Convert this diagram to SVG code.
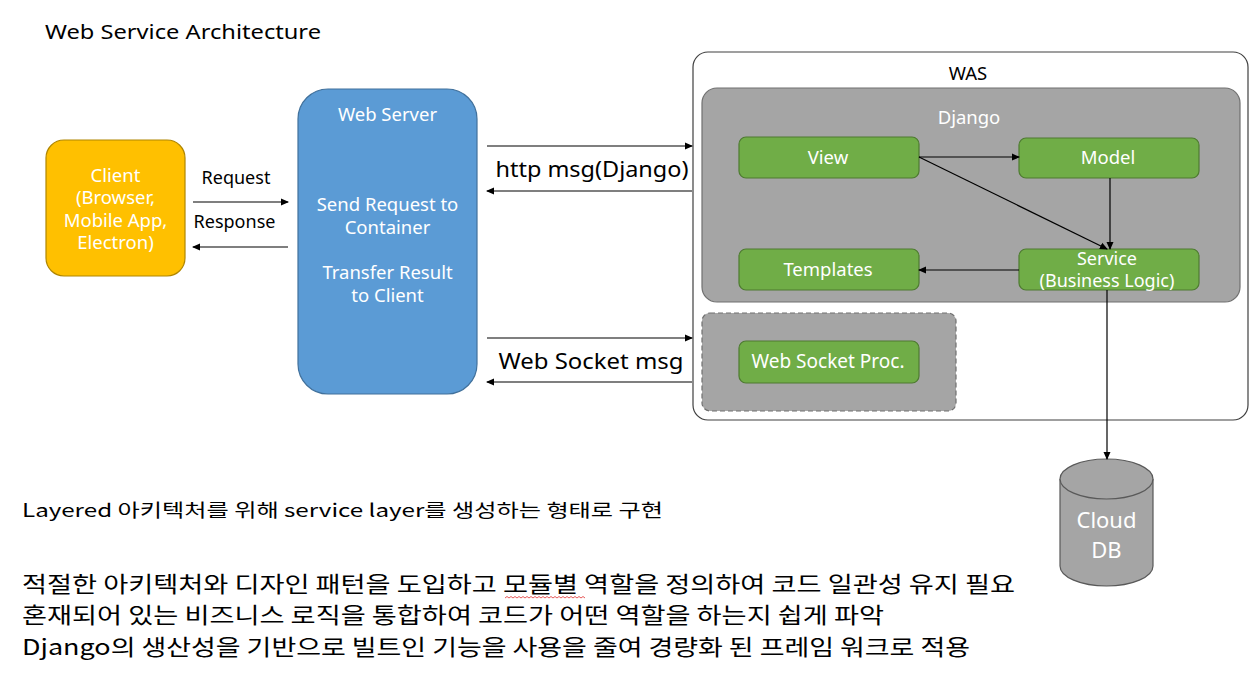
<svg xmlns="http://www.w3.org/2000/svg" width="1260" height="675" viewBox="0 0 1260 675">
<defs>
<marker id="ah" markerWidth="8" markerHeight="8" refX="7" refY="4" orient="auto" markerUnits="userSpaceOnUse">
<path d="M0,0.5 L8,4 L0,7.5 Z" fill="#000"/>
</marker>
<style>
text{font-family:"Noto Sans","Noto Sans CJK KR",sans-serif;}
.w{fill:#fff;text-anchor:middle;}
.k{fill:#000;}
.c{text-anchor:middle;}
.ln{stroke:#000;stroke-width:1.2;fill:none;}
.g{fill:#70AD47;stroke:#4E7B31;stroke-width:1.2;}
.gray{fill:#A5A5A5;stroke:#707070;stroke-width:1.2;}
.kr{font-family:"Noto Sans CJK KR","Noto Sans",sans-serif;}
.n{font-size:18.5px;}
</style>
</defs>
<rect width="1260" height="675" fill="#fff"/>

<text x="45" y="39" font-size="20" class="k" textLength="276" lengthAdjust="spacingAndGlyphs">Web Service Architecture</text>

<g id="client">
<rect x="46" y="140" width="139" height="136" rx="18" fill="#FFC000" stroke="#B08600" stroke-width="1.2"/>
<text class="w n"><tspan x="115.5" y="182">Client</tspan><tspan x="115.5" y="204">(Browser,</tspan><tspan x="115.5" y="227">Mobile App,</tspan><tspan x="115.5" y="249">Electron)</tspan></text>
</g>

<g id="webserver">
<rect x="298" y="89" width="179" height="305" rx="30" fill="#5B9BD5" stroke="#41719C" stroke-width="1.2"/>
<text class="w n"><tspan x="387.5" y="121">Web Server</tspan><tspan x="387.5" y="211">Send Request to</tspan><tspan x="387.5" y="234">Container</tspan><tspan x="387.5" y="279">Transfer Result</tspan><tspan x="387.5" y="302">to Client</tspan></text>
</g>

<g id="was">
<rect x="693" y="52" width="555" height="368" rx="15" fill="#fff" stroke="#404040" stroke-width="1.2"/>
<text x="968" y="80" class="k c n">WAS</text>
</g>

<g id="django">
<rect x="702" y="88" width="538" height="214" rx="15" class="gray"/>
<text x="969" y="124" class="w n">Django</text>
</g>

<g id="wsgroup">
<rect x="702" y="313" width="254" height="98" rx="8" class="gray" stroke-dasharray="5,3"/>
</g>

<g id="view">
<rect x="739" y="137" width="180" height="41" rx="7" class="g"/>
<text x="828" y="164" class="w n">View</text>
</g>
<g id="model">
<rect x="1019" y="138" width="180" height="40" rx="7" class="g"/>
<text x="1108" y="164" class="w n">Model</text>
</g>
<g id="templates">
<rect x="739" y="249" width="180" height="41" rx="7" class="g"/>
<text x="828" y="276" class="w n">Templates</text>
</g>
<g id="service">
<rect x="1019" y="249" width="180" height="41" rx="7" class="g"/>
<text class="w" font-size="18"><tspan x="1107" y="265">Service</tspan><tspan x="1107" y="287">(Business Logic)</tspan></text>
</g>
<g id="wsproc">
<rect x="739" y="341" width="180" height="42" rx="7" class="g"/>
<text x="828" y="368" class="w" font-size="19">Web Socket Proc.</text>
</g>

<g id="clouddb">
<path d="M1060,479 L1060,566 A46.5,20 0 0 0 1153,566 L1153,479" fill="#A5A5A5" stroke="#595959" stroke-width="1.2"/>
<ellipse cx="1106.5" cy="479" rx="46.5" ry="20" fill="#A5A5A5" stroke="#595959" stroke-width="1.2"/>
<text class="w" font-size="22"><tspan x="1106.5" y="528">Cloud</tspan><tspan x="1106.5" y="558">DB</tspan></text>
</g>

<g id="connectors">
<line x1="193" y1="202" x2="288" y2="202" class="ln" marker-end="url(#ah)"/>
<line x1="288" y1="247" x2="193" y2="247" class="ln" marker-end="url(#ah)"/>
<text x="236" y="184" font-size="18" class="k c">Request</text>
<text x="234.5" y="228" font-size="18" class="k c">Response</text>

<line x1="487" y1="146" x2="692" y2="146" class="ln" marker-end="url(#ah)"/>
<line x1="692" y1="191" x2="487" y2="191" class="ln" marker-end="url(#ah)"/>
<text x="592" y="177" font-size="21" class="k c" textLength="193" lengthAdjust="spacingAndGlyphs">http msg(Django)</text>

<line x1="487" y1="338" x2="692" y2="338" class="ln" marker-end="url(#ah)"/>
<line x1="692" y1="382" x2="487" y2="382" class="ln" marker-end="url(#ah)"/>
<text x="591" y="369" font-size="21" class="k c" textLength="185" lengthAdjust="spacingAndGlyphs">Web Socket msg</text>

<line x1="919" y1="157" x2="1019" y2="157" class="ln" marker-end="url(#ah)"/>
<line x1="919" y1="157" x2="1107" y2="249" class="ln" marker-end="url(#ah)"/>
<line x1="1110" y1="178" x2="1110" y2="249" class="ln" marker-end="url(#ah)"/>
<line x1="1019" y1="270" x2="919" y2="270" class="ln" marker-end="url(#ah)"/>
<line x1="1107" y1="290" x2="1107" y2="459" class="ln" marker-end="url(#ah)"/>
</g>

<g id="notes">
<text x="22" y="517" font-size="18" class="k kr" textLength="641" lengthAdjust="spacingAndGlyphs">Layered 아키텍처를 위해 service layer를 생성하는 형태로 구현</text>
<text x="22" y="592" font-size="22" class="k kr" textLength="993" lengthAdjust="spacingAndGlyphs">적절한 아키텍처와 디자인 패턴을 도입하고 모듈별 역할을 정의하여 코드 일관성 유지 필요</text>
<text x="22" y="623" font-size="22" class="k kr" textLength="862" lengthAdjust="spacingAndGlyphs">혼재되어 있는 비즈니스 로직을 통합하여 코드가 어떤 역할을 하는지 쉽게 파악</text>
<text x="22" y="655" font-size="22" class="k kr" textLength="948" lengthAdjust="spacingAndGlyphs">Django의 생산성을 기반으로 빌트인 기능을 사용을 줄여 경량화 된 프레임 워크로 적용</text>
<path d="M505,598 l2,-1.5 l2,1.5 l2,-1.5 l2,1.5 l2,-1.5 l2,1.5 l2,-1.5 l2,1.5 l2,-1.5 l2,1.5 l2,-1.5 l2,1.5 l2,-1.5 l2,1.5 l2,-1.5 l2,1.5 l2,-1.5 l2,1.5 l2,-1.5 l2,1.5 l2,-1.5 l2,1.5 l2,-1.5 l2,1.5 l2,-1.5 l2,1.5 l2,-1.5 l2,1.5 l2,-1.5 l2,1.5 l2,-1.5 l2,1.5 l2,-1.5 l2,1.5 l2,-1.5 l2,1.5 l2,-1.5 l2,1.5 l2,-1.5 l2,1.5" fill="none" stroke="#E03030" stroke-width="0.8"/>
</g>
</svg>
